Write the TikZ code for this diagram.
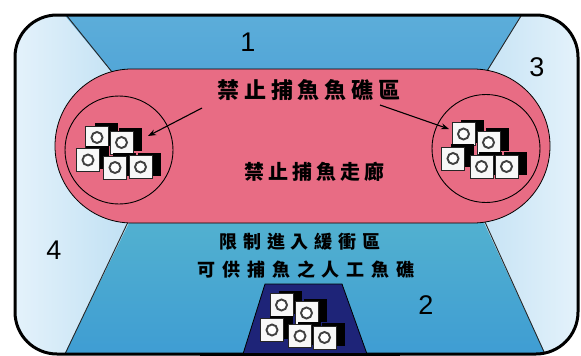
\documentclass[tikz,border=0pt]{standalone}
\usepackage{fontspec}
\setmainfont{Liberation Sans}
\newfontfamily\cjk{Noto Sans CJK TC}
\usetikzlibrary{arrows.meta}

\definecolor{lightsea}{HTML}{E4F2FB}
\definecolor{midsea}{HTML}{8CC6E8}
\definecolor{deepsea}{HTML}{4FA3D6}
\definecolor{deepseatop}{HTML}{5DAEDA}
\definecolor{tealsea}{HTML}{55B4CF}
\definecolor{bluesea}{HTML}{3E9CD3}
\definecolor{corridor}{HTML}{E86C84}
\definecolor{navy}{HTML}{1E2478}

\tikzset{
  x=1pt, y=-1pt,
  zoneline/.style={draw=black!85, line width=0.9pt},
  cjktext/.style={font=\cjk\bfseries, text=black, inner sep=0pt},
  zonenum/.style={font=\fontsize{27}{27}\selectfont, text=black, inner sep=0pt},
  pointer/.style={draw=black, line width=1.1pt, -{Stealth[length=8pt,width=6pt]}},
  ringline/.style={draw=black, line width=0.9pt},
  reefcube/.pic={
    \fill[black] (-2.5,-14.5) rectangle (20.5,8.5);
    \filldraw[fill=gray!6, draw=black!85, line width=1pt] (-11.5,-11.5) rectangle (11.5,11.5);
    \draw[line width=1.9pt, draw=black!75, fill=white] (0,0) circle (5.5);
  }
}

\begin{document}
\begin{tikzpicture}
\useasboundingbox (0,0) rectangle (581,356);
\fill[white] (0,0) rectangle (581,356);

% sea zones
\begin{scope}
  \clip[rounded corners=42] (15,15) rectangle (578,354);
  \shade[left color=lightsea, right color=lightsea, middle color=midsea] (15,15) rectangle (578,354);
  % zone 1 (top)
  \shade[top color=deepseatop, bottom color=deepsea]
    (60.4,10) -- (524.7,10) -- (475,91) -- (130,94) -- cycle;
  % zone 2 (bottom)
  \shade[top color=tealsea, bottom color=bluesea]
    (140.3,200) -- (473.3,200) -- (548.2,360) -- (61.6,360) -- cycle;
\end{scope}

% zone boundaries
\coordinate (tla) at (67,16);   \coordinate (tlb) at (112,72);
\coordinate (tra) at (521,16);  \coordinate (trb) at (487,71);
\coordinate (bla) at (128,222); \coordinate (blb) at (65,354);
\coordinate (bra) at (485,222); \coordinate (brb) at (545,354);
\draw[zoneline] (tla) -- (tlb);
\draw[zoneline] (tra) -- (trb);
\draw[zoneline] (bla) -- (blb);
\draw[zoneline] (bra) -- (brb);

% outer frame
\draw[line width=3pt, rounded corners=42] (15,15) rectangle (578,354);

% no-fishing corridor
\filldraw[fill=corridor, draw=black, line width=0.8pt, rounded corners=76.9] (55,69) rectangle (550,223);

% reef rings
\node[ringline, circle, minimum size=108pt, inner sep=0pt] (leftring) at (119,150) {};
\node[ringline, circle, minimum size=108pt, inner sep=0pt] (rightring) at (486,148.5) {};

% left reef group
\pic at (97,137.5) {reefcube};
\pic at (121.5,142.5) {reefcube};
\pic at (88,160) {reefcube};
\pic at (115,167.5) {reefcube};
\pic at (140.5,167) {reefcube};

% right reef group
\pic at (463.5,134) {reefcube};
\pic at (488.5,142.5) {reefcube};
\pic at (453,158.5) {reefcube};
\pic at (481.5,166.5) {reefcube};
\pic at (506.5,166.5) {reefcube};

% artificial reef site
\filldraw[fill=navy, draw=black, line width=0.8pt] (265,284) -- (342,284) -- (367,354) -- (243,354) -- cycle;
\pic at (281.5,305) {reefcube};
\pic at (306.5,313) {reefcube};
\pic at (272,330) {reefcube};
\pic at (300,336) {reefcube};
\pic at (324.5,337.5) {reefcube};
\draw[line width=3pt] (200,354) -- (400,354);

% labels
\node[cjktext, font=\cjk\bfseries\fontsize{22}{22}\selectfont] (reefzone) at (309,90) {\addfontfeature{LetterSpace=22}禁止捕魚魚礁區};
\node[cjktext, font=\cjk\bfseries\fontsize{20}{20}\selectfont] (corridortext) at (314,172) {\addfontfeature{LetterSpace=20}禁止捕魚走廊};
\node[cjktext, font=\cjk\bfseries\fontsize{18}{18}\selectfont] (buffer) at (300,242) {\addfontfeature{LetterSpace=33}限制進入緩衝區};
\node[cjktext, font=\cjk\bfseries\fontsize{18}{18}\selectfont] (artreef) at (306,270) {\addfontfeature{LetterSpace=38}可供捕魚之人工魚礁};

\node[zonenum] (z1) at (248,42) {1};
\node[zonenum] (z2) at (426,305) {2};
\node[zonenum] (z3) at (537,67) {3};
\node[zonenum] (z4) at (54,250) {4};

% pointers to the reef groups
\coordinate (ptl) at (202,108); \coordinate (phl) at (148,136);
\coordinate (ptr) at (380,105); \coordinate (phr) at (449,129);
\draw[pointer] (ptl) -- (phl);
\draw[pointer] (ptr) -- (phr);
\end{tikzpicture}
\end{document}
